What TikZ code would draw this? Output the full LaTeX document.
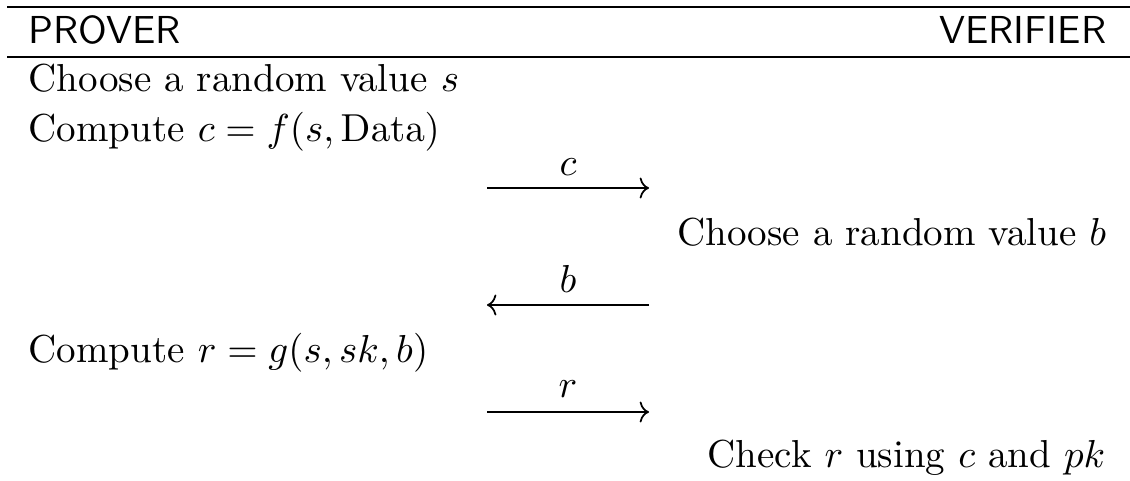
\documentclass[tikz,border=0pt]{standalone}
\usepackage{amsmath, amssymb}
\usepackage{tikz}
\usetikzlibrary{positioning, arrows.meta}

\begin{document}
\begin{tikzpicture}[x=0.2564pt, y=-0.2564pt,
    txt/.style={inner sep=0pt, anchor=base west},
    rtxt/.style={inner sep=0pt, anchor=base east},
    lbl/.style={inner sep=0pt, anchor=base},
    hdr/.style={inner sep=0pt, font=\sffamily},
    msg/.style={-{Computer Modern Rightarrow[length=2.4pt, width=5.4pt]}, line width=0.45pt}]
    % Fix the page size
    \useasboundingbox (0,0) rectangle (1130,480);

    % Draw the header rules
    \draw[line width=0.6pt] (7,7) -- (1130,7);
    \draw[line width=0.45pt] (7,57) -- (1130,57);

    % Header labels
    \node[hdr, anchor=base west] (prover) at (28,43) {PROVER};
    \node[hdr, anchor=base east] (verifier) at (1107,43) {VERIFIER};

    % Prover and verifier steps
    \node[txt] (pick-s) at (28,91) {Choose a random value $s$};
    \node[txt] (comp-c) at (28,141) {Compute $c = f(s, \mathrm{Data})$};
    \node[rtxt] (pick-b) at (1107,245) {Choose a random value $b$};
    \node[txt] (comp-r) at (28,362) {Compute $r = g(s, sk, b)$};
    \node[rtxt] (check) at (1106,467) {Check $r$ using $c$ and $pk$};

    % Messages
    \foreach \m/\y/\ly in {c/188/175, b/305/292, r/412/397} {
        \coordinate (\m-l) at (487,\y);
        \coordinate (\m-r) at (649,\y);
        \node[lbl] (lab-\m) at (568,\ly) {$\m$};
    }
    \draw[msg] (c-l) -- (c-r);
    \draw[msg] (b-r) -- (b-l);
    \draw[msg] (r-l) -- (r-r);
\end{tikzpicture}
\end{document}
